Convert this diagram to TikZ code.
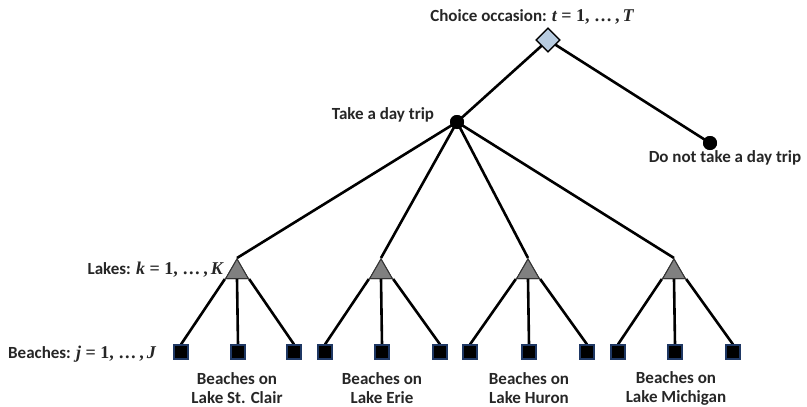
\documentclass[tikz,border=0pt]{standalone}
\usepackage{fontspec}
\setmainfont{Carlito}
\newfontfamily\mathserif{Liberation Serif}
\usetikzlibrary{shapes.geometric}
\definecolor{diamondblue}{RGB}{184,204,224}
\definecolor{lakegray}{RGB}{128,128,128}
\definecolor{sqborder}{RGB}{31,56,100}
\tikzset{
  lbl/.style={font=\bfseries\fontsize{17}{19}\selectfont, inner sep=1pt, text=black!85},
  edge/.style={line width=2.6pt, black},
  choicebox/.style={diamond, draw=black, line width=1.2pt, fill=diamondblue, minimum size=24pt, inner sep=0pt},
  dotnode/.style={circle, fill=black, minimum size=14pt, inner sep=0pt},
  lakenode/.style={regular polygon, regular polygon sides=3, draw=black!80, line width=1pt, fill=lakegray, minimum size=26pt, inner sep=0pt},
  beachnode/.style={rectangle, draw=sqborder, line width=1.2pt, fill=black, minimum size=14pt, inner sep=0pt},
}
% index range such as  t = 1, ..., T
\newcommand{\idxrange}[2]{{\mathserif\bfseries\fontsize{18}{19}\selectfont\itshape #1\upshape\ =\ 1,\ …\,,\,\itshape #2}}
\begin{document}
\begin{tikzpicture}[x=1pt,y=-1pt]
\useasboundingbox (0,0) rectangle (807,407);
% nodes
\node[choicebox] (choice) at (548,40) {};
\node[dotnode] (trip) at (457,122) {};
\node[dotnode] (notrip) at (710,143) {};
\foreach \i/\x in {1/237,2/381,3/528,4/674}{
  \node[lakenode] (lake\i) at (\x,272) {};
}
\foreach \i/\x in {1/181,2/238,3/294,4/325,5/382,6/440,7/470,8/529,9/587,10/618,11/675,12/733}{
  \node[beachnode] (b\i) at (\x,352) {};
}
% labels
\node[lbl] (lchoice) at (532,17) {Choice occasion: \idxrange{t}{T}};
\node[lbl] (ltrip) at (383,115) {Take a day trip};
\node[lbl] (lnotrip) at (725,158) {Do not take a day trip};
\node[lbl, anchor=east] (llakes) at (224,270) {Lakes: \idxrange{k}{K}};
\node[lbl, anchor=east] (lbeaches) at (157,354) {Beaches: \idxrange{j}{J}};
\node[lbl, align=center] (g1) at (237,388) {Beaches on\\Lake St. Clair};
\node[lbl, align=center] (g2) at (382,388) {Beaches on\\Lake Erie};
\node[lbl, align=center] (g3) at (529,388) {Beaches on\\Lake Huron};
\node[lbl, align=center] (g4) at (676,388) {Beaches on\\Lake Michigan};
% edges
\draw[edge] (choice.center) -- (trip.center);
\draw[edge] (choice.center) -- (notrip.center);
\foreach \i in {1,2,3,4}{
  \draw[edge] (trip.center) -- (lake\i.corner 1);
}
\foreach \i/\a/\b/\c in {1/1/2/3,2/4/5/6,3/7/8/9,4/10/11/12}{
  \draw[edge] (lake\i.corner 2) -- (b\a.north);
  \draw[edge] (lake\i.south) -- (b\b.north);
  \draw[edge] (lake\i.corner 3) -- (b\c.north);
}
% redraw shapes on top of the connectors
\node[choicebox] at (choice) {};
\node[dotnode] at (trip) {};
\node[dotnode] at (notrip) {};
\foreach \x in {237,381,528,674}{
  \node[lakenode] at (\x,272) {};
}
\foreach \x in {181,238,294,325,382,440,470,529,587,618,675,733}{
  \node[beachnode] at (\x,352) {};
}
\end{tikzpicture}
\end{document}
